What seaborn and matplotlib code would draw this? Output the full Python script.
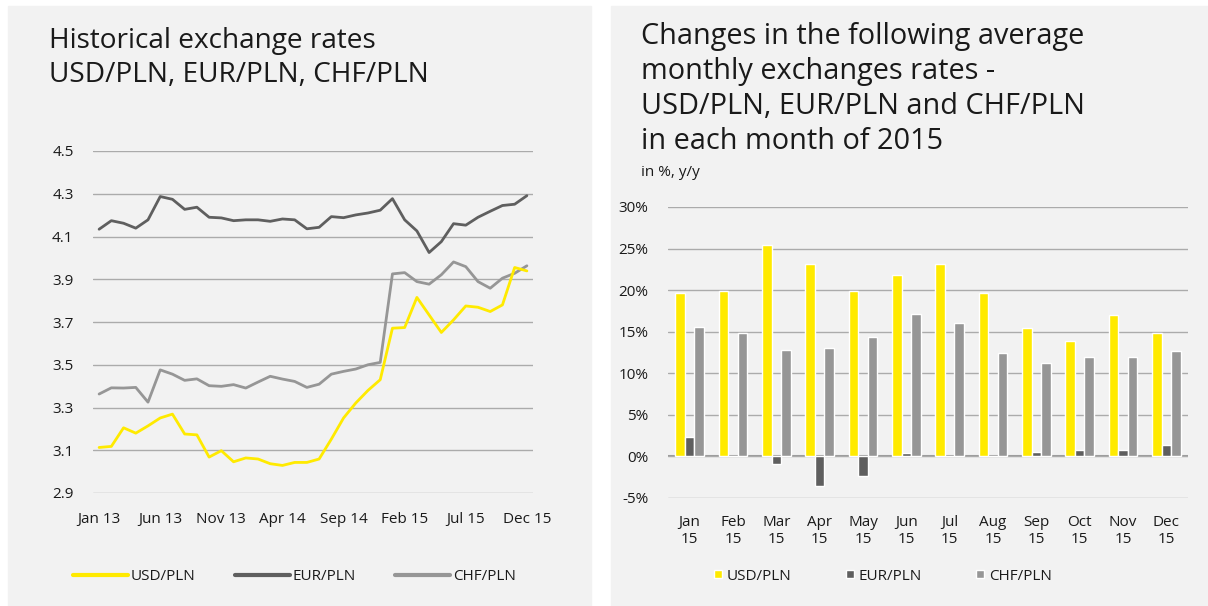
import pandas as pd
import matplotlib.pyplot as plt
import seaborn as sns
from matplotlib.patches import Rectangle
from matplotlib.lines import Line2D


# ==========================================
# Data
# ==========================================

month_labels = [
    "Jan 13", "Feb 13", "Mar 13", "Apr 13", "May 13", "Jun 13",
    "Jul 13", "Aug 13", "Sep 13", "Oct 13", "Nov 13", "Dec 13",
    "Jan 14", "Feb 14", "Mar 14", "Apr 14", "May 14", "Jun 14",
    "Jul 14", "Aug 14", "Sep 14", "Oct 14", "Nov 14", "Dec 14",
    "Jan 15", "Feb 15", "Mar 15", "Apr 15", "May 15", "Jun 15",
    "Jul 15", "Aug 15", "Sep 15", "Oct 15", "Nov 15", "Dec 15",
]

usd_rate = [3.113, 3.118, 3.205, 3.180, 3.214, 3.251, 3.269, 3.176, 3.172, 3.068, 3.098, 3.046,
            3.064, 3.059, 3.037, 3.029, 3.043, 3.043, 3.059, 3.152, 3.251, 3.321, 3.380, 3.430,
            3.671, 3.674, 3.815, 3.733, 3.651, 3.710, 3.775, 3.769, 3.749, 3.780, 3.955, 3.939]

eur_rate = [4.134, 4.174, 4.162, 4.139, 4.178, 4.287, 4.274, 4.227, 4.237, 4.190, 4.187, 4.174,
            4.178, 4.178, 4.171, 4.182, 4.178, 4.136, 4.143, 4.193, 4.188, 4.201, 4.210, 4.223,
            4.277, 4.178, 4.126, 4.025, 4.076, 4.160, 4.153, 4.190, 4.218, 4.245, 4.251, 4.291]

chf_rate = [3.363, 3.392, 3.391, 3.394, 3.325, 3.476, 3.456, 3.427, 3.434, 3.402, 3.399, 3.407,
            3.391, 3.419, 3.446, 3.433, 3.422, 3.394, 3.409, 3.456, 3.469, 3.480, 3.500, 3.511,
            3.925, 3.931, 3.889, 3.877, 3.921, 3.981, 3.959, 3.889, 3.858, 3.905, 3.928, 3.963]

months_2015 = ["Jan\n15", "Feb\n15", "Mar\n15", "Apr\n15", "May\n15", "Jun\n15",
               "Jul\n15", "Aug\n15", "Sep\n15", "Oct\n15", "Nov\n15", "Dec\n15"]

usd_change = [19.7, 19.9, 25.4, 23.2, 19.9, 21.8, 23.2, 19.6, 15.4, 13.9, 17.0, 14.8]
eur_change = [2.3, 0.0, -0.9, -3.6, -2.3, 0.4, 0.1, 0.0, 0.5, 0.8, 0.8, 1.4]
chf_change = [15.6, 14.8, 12.8, 13.0, 14.4, 17.1, 16.0, 12.4, 11.2, 12.0, 11.9, 12.7]

pairs = ["USD/PLN", "EUR/PLN", "CHF/PLN"]
colors = {"USD/PLN": "#FFEA00", "EUR/PLN": "#5F5F5F", "CHF/PLN": "#969696"}


# ==========================================
# Long form tables
# ==========================================

rates = pd.DataFrame({
    "idx": list(range(len(month_labels))) * 3,
    "rate": usd_rate + eur_rate + chf_rate,
    "pair": ["USD/PLN"] * 36 + ["EUR/PLN"] * 36 + ["CHF/PLN"] * 36,
})

changes = pd.DataFrame({
    "month": months_2015 * 3,
    "change": usd_change + eur_change + chf_change,
    "pair": ["USD/PLN"] * 12 + ["EUR/PLN"] * 12 + ["CHF/PLN"] * 12,
})


# ==========================================
# Figure
# ==========================================

sns.set_theme(style="white")
plt.rcParams["font.family"] = ["Open Sans", "DejaVu Sans"]

W, H = 1208, 606
fig = plt.figure(figsize=(W / 100, H / 100), dpi=100)
fig.patch.set_facecolor("white")

# grey panels
fig.patches.append(Rectangle((8 / W, 0), (591 - 8) / W, 1 - 6 / H,
                             transform=fig.transFigure, color="#F2F2F2", zorder=-10))
fig.patches.append(Rectangle((611 / W, 0), (W - 611) / W, 1 - 6 / H,
                             transform=fig.transFigure, color="#F2F2F2", zorder=-10))

text_color = "#1A1A1A"
grid_color = "#ABABAB"
tick_size = 11


# =================================================
# LEFT: historical rates
# =================================================

ax1 = fig.add_axes([93 / W, 1 - 493 / H, 440 / W, 342 / H])
ax1.set_facecolor("none")
ax1.set_zorder(1)

sns.lineplot(
    data=rates, x="idx", y="rate", hue="pair",
    hue_order=["CHF/PLN", "EUR/PLN", "USD/PLN"],
    palette=colors, linewidth=2.0, legend=False, ax=ax1
)

ax1.set_xlim(-0.5, 35.5)
ax1.set_ylim(2.9, 4.5)
ax1.set_yticks([2.9, 3.1, 3.3, 3.5, 3.7, 3.9, 4.1, 4.3, 4.5])
ax1.set_yticklabels(["2.9", "3.1", "3.3", "3.5", "3.7", "3.9", "4.1", "4.3", "4.5"])
ax1.set_xticks(range(0, 36, 5))
ax1.set_xticklabels([month_labels[i] for i in range(0, 36, 5)])
ax1.grid(axis="y", color=grid_color, linewidth=1)
ax1.set_axisbelow(True)
for s in ax1.spines.values():
    s.set_visible(False)
ax1.tick_params(axis="y", length=0, pad=14, labelsize=tick_size, labelcolor=text_color)
ax1.tick_params(axis="x", length=0, pad=14, labelsize=tick_size, labelcolor=text_color)
ax1.set_xlabel("")
ax1.set_ylabel("")

fig.text(49 / W, 1 - 27 / H, "Historical exchange rates\nUSD/PLN, EUR/PLN, CHF/PLN",
         fontsize=20.2, color=text_color, va="top", ha="left", linespacing=1.3)

line_handles = [Line2D([0], [0], color=colors[p], linewidth=3) for p in pairs]
fig.legend(line_handles, pairs, loc="center left",
           bbox_to_anchor=(59 / W, 1 - 577 / H), ncol=3, frameon=False,
           fontsize=tick_size, handlelength=3.6, handletextpad=0.2, columnspacing=2.55,
           labelcolor=text_color)


# =================================================
# RIGHT: y/y changes
# =================================================

ax2 = fig.add_axes([668 / W, 1 - 498 / H, 520 / W, 291 / H])
ax2.set_facecolor("none")
ax2.set_zorder(1)

sns.barplot(
    data=changes, x="month", y="change", hue="pair",
    hue_order=pairs, palette=colors, width=0.66, saturation=1,
    edgecolor="white", linewidth=1, legend=False, ax=ax2
)

ax2.set_ylim(-5, 30)
ax2.set_yticks([-5, 0, 5, 10, 15, 20, 25, 30])
ax2.set_yticklabels(["-5%", "0%", "5%", "10%", "15%", "20%", "25%", "30%"])
ax2.grid(axis="y", color=grid_color, linewidth=1)
ax2.set_axisbelow(True)
ax2.axhline(0, color="#9A9A9A", linewidth=1.5, zorder=0.5)
for s in ax2.spines.values():
    s.set_visible(False)
ax2.tick_params(axis="y", length=0, pad=14, labelsize=tick_size, labelcolor=text_color)
ax2.tick_params(axis="x", length=0, pad=12, labelsize=tick_size, labelcolor=text_color)
ax2.set_xlabel("")
ax2.set_ylabel("")

fig.text(641 / W, 1 - 22 / H,
         "Changes in the following average\nmonthly exchanges rates -\n"
         "USD/PLN, EUR/PLN and CHF/PLN\nin each month of 2015",
         fontsize=20.8, color=text_color, va="top", ha="left", linespacing=1.27)
fig.text(641 / W, 1 - 173 / H, "in %, y/y", fontsize=tick_size, color=text_color,
         va="center", ha="left")

box_handles = [Line2D([0], [0], marker="s", linestyle="none", markersize=6,
                      markerfacecolor=colors[p], markeredgecolor="white") for p in pairs]
fig.legend(box_handles, pairs, loc="center left",
           bbox_to_anchor=(698 / W, 1 - 576 / H), ncol=3, frameon=False,
           fontsize=tick_size, handlelength=0.8, handletextpad=0.2, columnspacing=3.4,
           labelcolor=text_color)

fig.savefig("out.png", dpi=100)
